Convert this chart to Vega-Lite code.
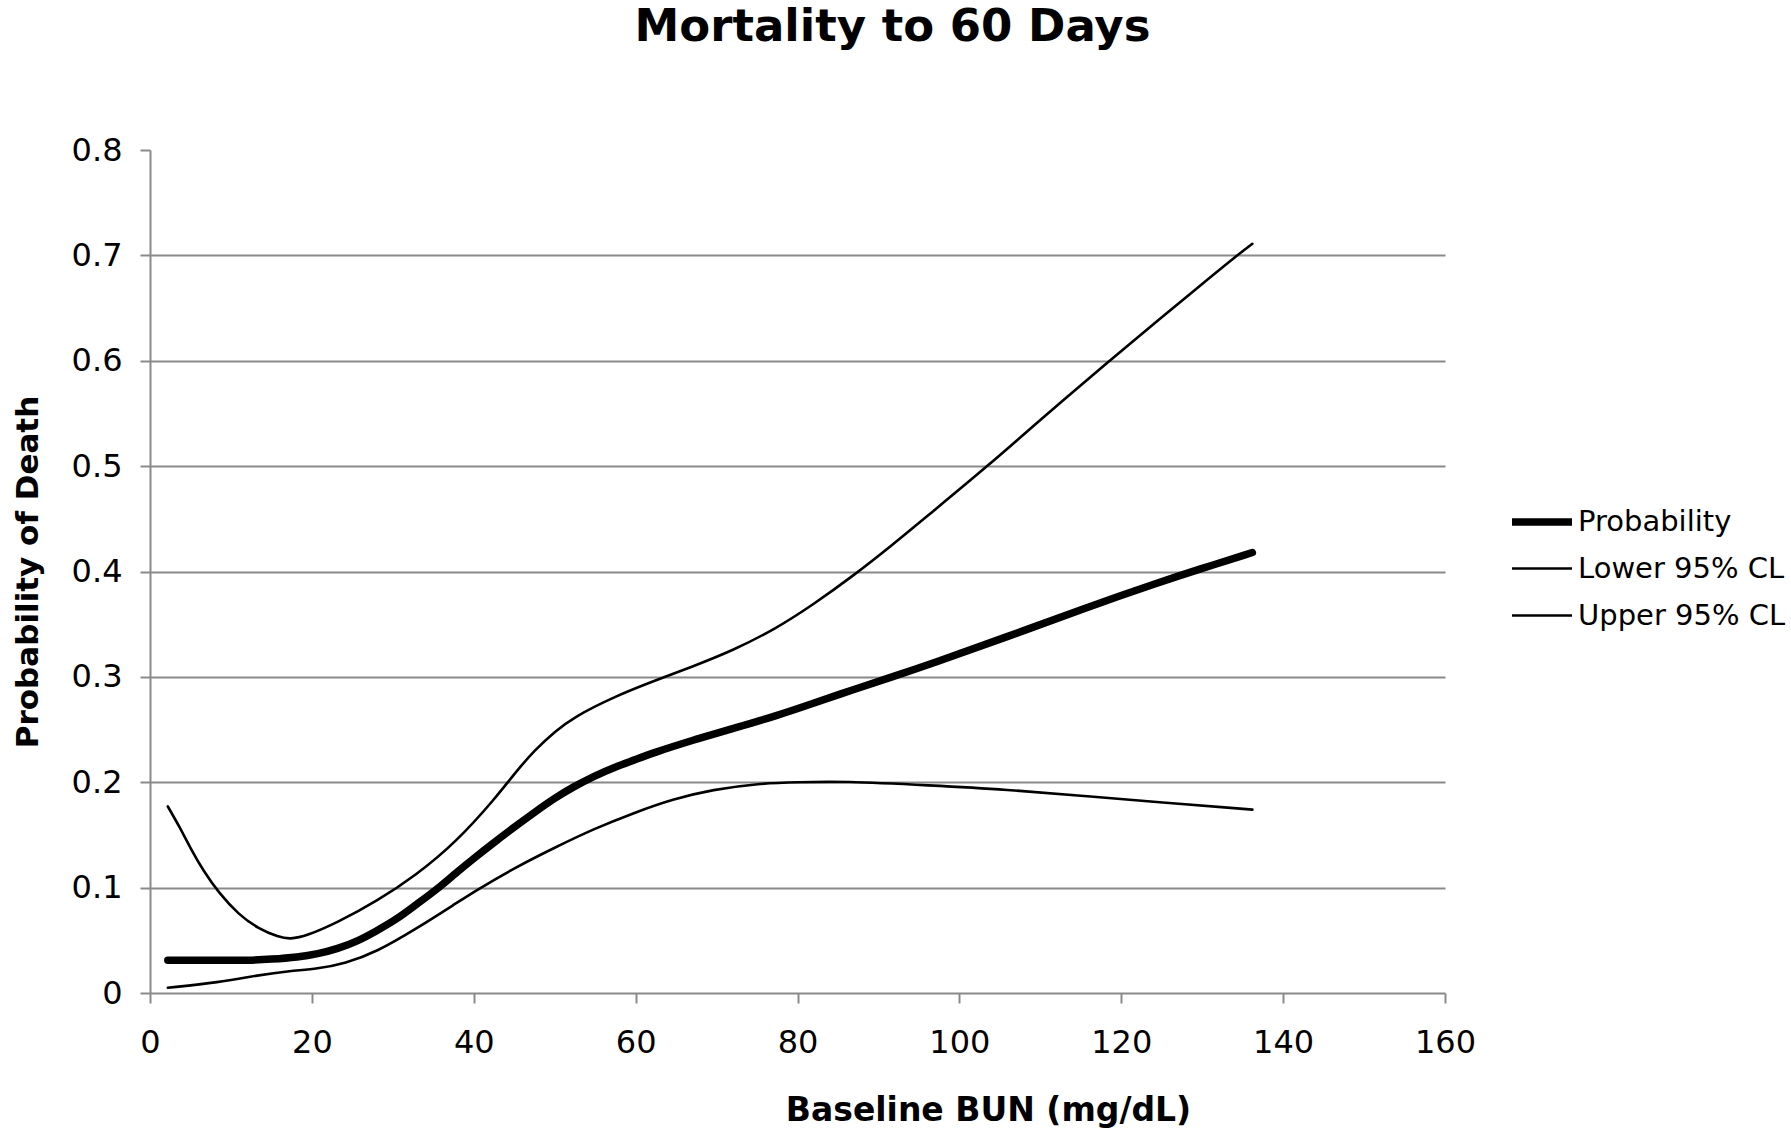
{
  "$schema": "https://vega.github.io/schema/vega-lite/v6.json",
  "autosize": {"type": "none"},
  "width": 1295,
  "height": 843,
  "padding": {"left": 150, "top": 150, "right": 346, "bottom": 135},
  "background": "white",
  "title": {
    "text": "Mortality to 60 Days",
    "font": "DejaVu Sans",
    "fontSize": 45,
    "fontWeight": "bold",
    "color": "black",
    "anchor": "middle",
    "frame": "group",
    "dx": 95,
    "baseline": "alphabetic",
    "offset": 48
  },
  "data": {
    "values": [
      {"x": 2.2, "y": 0.031, "series": "Probability"},
      {"x": 5, "y": 0.031, "series": "Probability"},
      {"x": 8.5, "y": 0.031, "series": "Probability"},
      {"x": 12, "y": 0.031, "series": "Probability"},
      {"x": 15, "y": 0.032, "series": "Probability"},
      {"x": 18.3, "y": 0.034, "series": "Probability"},
      {"x": 20.7, "y": 0.037, "series": "Probability"},
      {"x": 23.2, "y": 0.042, "series": "Probability"},
      {"x": 25.6, "y": 0.049, "series": "Probability"},
      {"x": 28, "y": 0.059, "series": "Probability"},
      {"x": 30.5, "y": 0.07, "series": "Probability"},
      {"x": 32.9, "y": 0.084, "series": "Probability"},
      {"x": 35.4, "y": 0.098, "series": "Probability"},
      {"x": 37.8, "y": 0.114, "series": "Probability"},
      {"x": 40.2, "y": 0.129, "series": "Probability"},
      {"x": 42.7, "y": 0.144, "series": "Probability"},
      {"x": 45.1, "y": 0.158, "series": "Probability"},
      {"x": 47.6, "y": 0.172, "series": "Probability"},
      {"x": 50, "y": 0.185, "series": "Probability"},
      {"x": 52.4, "y": 0.196, "series": "Probability"},
      {"x": 54.9, "y": 0.206, "series": "Probability"},
      {"x": 57.3, "y": 0.214, "series": "Probability"},
      {"x": 59.8, "y": 0.221, "series": "Probability"},
      {"x": 62.2, "y": 0.228, "series": "Probability"},
      {"x": 67.1, "y": 0.24, "series": "Probability"},
      {"x": 72, "y": 0.251, "series": "Probability"},
      {"x": 77.4, "y": 0.263, "series": "Probability"},
      {"x": 82, "y": 0.275, "series": "Probability"},
      {"x": 86.9, "y": 0.288, "series": "Probability"},
      {"x": 91.7, "y": 0.3, "series": "Probability"},
      {"x": 96.4, "y": 0.312, "series": "Probability"},
      {"x": 105.9, "y": 0.338, "series": "Probability"},
      {"x": 115.4, "y": 0.365, "series": "Probability"},
      {"x": 124.8, "y": 0.39, "series": "Probability"},
      {"x": 129.6, "y": 0.402, "series": "Probability"},
      {"x": 136.2, "y": 0.418, "series": "Probability"},

      {"x": 2.2, "y": 0.005, "series": "Lower 95% CL"},
      {"x": 8.5, "y": 0.01, "series": "Lower 95% CL"},
      {"x": 13.4, "y": 0.017, "series": "Lower 95% CL"},
      {"x": 17.3, "y": 0.021, "series": "Lower 95% CL"},
      {"x": 20.7, "y": 0.023, "series": "Lower 95% CL"},
      {"x": 24.1, "y": 0.028, "series": "Lower 95% CL"},
      {"x": 28, "y": 0.039, "series": "Lower 95% CL"},
      {"x": 32.9, "y": 0.061, "series": "Lower 95% CL"},
      {"x": 37.8, "y": 0.085, "series": "Lower 95% CL"},
      {"x": 40.2, "y": 0.097, "series": "Lower 95% CL"},
      {"x": 45.1, "y": 0.119, "series": "Lower 95% CL"},
      {"x": 50, "y": 0.138, "series": "Lower 95% CL"},
      {"x": 54.9, "y": 0.156, "series": "Lower 95% CL"},
      {"x": 59.8, "y": 0.171, "series": "Lower 95% CL"},
      {"x": 64.6, "y": 0.184, "series": "Lower 95% CL"},
      {"x": 69.5, "y": 0.193, "series": "Lower 95% CL"},
      {"x": 75.3, "y": 0.199, "series": "Lower 95% CL"},
      {"x": 80, "y": 0.2, "series": "Lower 95% CL"},
      {"x": 85.5, "y": 0.201, "series": "Lower 95% CL"},
      {"x": 96.4, "y": 0.197, "series": "Lower 95% CL"},
      {"x": 105.9, "y": 0.193, "series": "Lower 95% CL"},
      {"x": 115.4, "y": 0.187, "series": "Lower 95% CL"},
      {"x": 124.8, "y": 0.181, "series": "Lower 95% CL"},
      {"x": 136.2, "y": 0.174, "series": "Lower 95% CL"},

      {"x": 2.2, "y": 0.177, "series": "Upper 95% CL"},
      {"x": 3.7, "y": 0.157, "series": "Upper 95% CL"},
      {"x": 5.1, "y": 0.136, "series": "Upper 95% CL"},
      {"x": 6.6, "y": 0.116, "series": "Upper 95% CL"},
      {"x": 8.5, "y": 0.095, "series": "Upper 95% CL"},
      {"x": 11, "y": 0.074, "series": "Upper 95% CL"},
      {"x": 13.4, "y": 0.061, "series": "Upper 95% CL"},
      {"x": 15.9, "y": 0.053, "series": "Upper 95% CL"},
      {"x": 17.3, "y": 0.051, "series": "Upper 95% CL"},
      {"x": 19.3, "y": 0.054, "series": "Upper 95% CL"},
      {"x": 23.2, "y": 0.067, "series": "Upper 95% CL"},
      {"x": 28, "y": 0.087, "series": "Upper 95% CL"},
      {"x": 32.9, "y": 0.112, "series": "Upper 95% CL"},
      {"x": 37.8, "y": 0.143, "series": "Upper 95% CL"},
      {"x": 42.7, "y": 0.185, "series": "Upper 95% CL"},
      {"x": 45.1, "y": 0.209, "series": "Upper 95% CL"},
      {"x": 47.6, "y": 0.231, "series": "Upper 95% CL"},
      {"x": 50, "y": 0.248, "series": "Upper 95% CL"},
      {"x": 52.4, "y": 0.262, "series": "Upper 95% CL"},
      {"x": 57.3, "y": 0.281, "series": "Upper 95% CL"},
      {"x": 62.2, "y": 0.296, "series": "Upper 95% CL"},
      {"x": 67.1, "y": 0.31, "series": "Upper 95% CL"},
      {"x": 72, "y": 0.325, "series": "Upper 95% CL"},
      {"x": 77.4, "y": 0.346, "series": "Upper 95% CL"},
      {"x": 82, "y": 0.369, "series": "Upper 95% CL"},
      {"x": 86.9, "y": 0.396, "series": "Upper 95% CL"},
      {"x": 91.7, "y": 0.425, "series": "Upper 95% CL"},
      {"x": 96.4, "y": 0.455, "series": "Upper 95% CL"},
      {"x": 103.5, "y": 0.5, "series": "Upper 95% CL"},
      {"x": 110.6, "y": 0.548, "series": "Upper 95% CL"},
      {"x": 118.4, "y": 0.599, "series": "Upper 95% CL"},
      {"x": 124.8, "y": 0.64, "series": "Upper 95% CL"},
      {"x": 130, "y": 0.673, "series": "Upper 95% CL"},
      {"x": 134.3, "y": 0.7, "series": "Upper 95% CL"},
      {"x": 136.2, "y": 0.711, "series": "Upper 95% CL"}
    ]
  },
  "mark": {"type": "line", "color": "black", "strokeCap": "round", "strokeJoin": "round", "interpolate": "basis"},
  "encoding": {
    "x": {
      "field": "x",
      "type": "quantitative",
      "scale": {"domain": [0, 160], "nice": false},
      "axis": {
        "title": "Baseline BUN (mg/dL)",
        "values": [0, 20, 40, 60, 80, 100, 120, 140, 160],
        "grid": false,
        "domainColor": "#8a8a8a",
        "domainWidth": 2,
        "tickColor": "#8a8a8a",
        "tickWidth": 2,
        "tickSize": 10,
        "labelFont": "DejaVu Sans",
        "labelFontSize": 32,
        "labelColor": "black",
        "labelPadding": 24,
        "labelFlush": false,
        "titleFont": "DejaVu Sans",
        "titleFontSize": 33,
        "titleFontWeight": "bold",
        "titleColor": "black",
        "titleX": 838,
        "titlePadding": 36
      }
    },
    "y": {
      "field": "y",
      "type": "quantitative",
      "scale": {"domain": [0, 0.8], "nice": false},
      "axis": {
        "title": "Probability of Death",
        "values": [0, 0.1, 0.2, 0.3, 0.4, 0.5, 0.6, 0.7, 0.8],
        "format": "~g",
        "grid": true,
        "gridColor": "#8a8a8a",
        "gridWidth": 2,
        "gridOpacity": {"condition": {"test": "datum.value >= 0.75 || datum.value == 0", "value": 0}, "value": 1},
        "domainColor": "#8a8a8a",
        "domainWidth": 2,
        "tickColor": "#8a8a8a",
        "tickWidth": 2,
        "tickSize": 10,
        "labelFont": "DejaVu Sans",
        "labelFontSize": 32,
        "labelColor": "black",
        "labelPadding": 18,
        "labelFlush": false,
        "titleFont": "DejaVu Sans",
        "titleFontSize": 31,
        "titleFontWeight": "bold",
        "titleColor": "black",
        "titlePadding": 27
      }
    },
    "strokeWidth": {
      "field": "series",
      "type": "nominal",
      "scale": {"type": "ordinal", "domain": ["Probability", "Lower 95% CL", "Upper 95% CL"], "range": [7.5, 2.6, 2.6]},
      "legend": {
        "title": null,
        "orient": "none",
        "legendX": 1358,
        "legendY": 338,
        "padding": 0,
        "symbolType": "stroke",
        "symbolSize": 3600,
        "symbolStrokeColor": "black",
        "labelFont": "DejaVu Sans",
        "labelFontSize": 29,
        "labelColor": "black",
        "labelOffset": 2,
        "rowPadding": -5,
        "labelLimit": 0
      }
    }
  },
  "config": {
    "view": {"stroke": null}
  }
}
